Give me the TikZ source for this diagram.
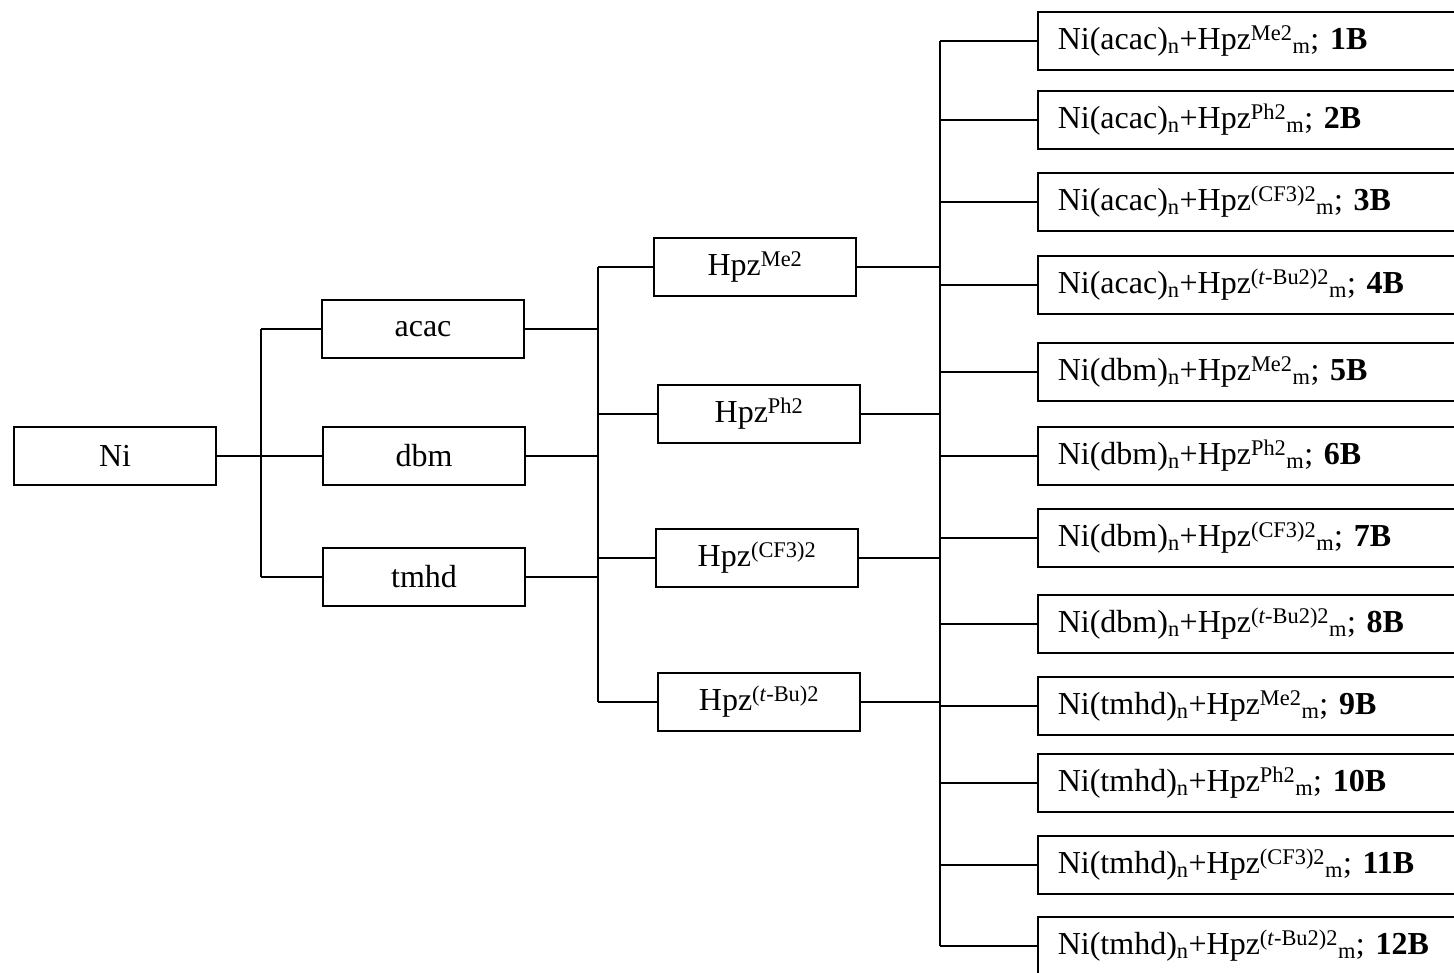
\documentclass[tikz,border=0pt]{standalone}
\usepackage{fontspec}
\setmainfont{Liberation Serif}
\frenchspacing
\begin{document}
\begin{tikzpicture}[x=1pt,y=-1pt,
  wire/.style={line width=1.6pt},
  box/.style={draw, line width=1.6pt, minimum width=202pt, minimum height=58pt,
    inner sep=0pt, font=\fontsize{32}{38}\selectfont},
  rbox/.style={draw, line width=1.6pt, anchor=west, minimum height=58pt,
    text width=420pt, inner xsep=20pt, inner ysep=0pt, align=left,
    font=\fontsize{32}{38}\selectfont}]
\useasboundingbox (0,0) rectangle (1454,973);

% metal and ligands
\node[box] (ni)   at (115,456) {Ni};
\node[box] (acac) at (423,329) {acac};
\node[box] (dbm)  at (424,456) {dbm};
\node[box] (tmhd) at (424,577) {tmhd};

% pyrazoles
\node[box] (hme) at (755,267) {Hpz\textsuperscript{Me2}};
\node[box] (hph) at (759,414) {Hpz\textsuperscript{Ph2}};
\node[box] (hcf) at (757,558) {Hpz\textsuperscript{(CF3)2}};
\node[box] (hbu) at (759,702) {Hpz\textsuperscript{(\textit{t}-Bu)2}};

% combinations
\node[rbox] (r1)  at (1037,41)  {Ni(acac)\textsubscript{n}+Hpz\textsuperscript{Me2}\textsubscript{m}; \textbf{1B}};
\node[rbox] (r2)  at (1037,120) {Ni(acac)\textsubscript{n}+Hpz\textsuperscript{Ph2}\textsubscript{m}; \textbf{2B}};
\node[rbox] (r3)  at (1037,202) {Ni(acac)\textsubscript{n}+Hpz\textsuperscript{(CF3)2}\textsubscript{m}; \textbf{3B}};
\node[rbox] (r4)  at (1037,285) {Ni(acac)\textsubscript{n}+Hpz\textsuperscript{(\textit{t}-Bu2)2}\textsubscript{m}; \textbf{4B}};
\node[rbox] (r5)  at (1037,372) {Ni(dbm)\textsubscript{n}+Hpz\textsuperscript{Me2}\textsubscript{m}; \textbf{5B}};
\node[rbox] (r6)  at (1037,456) {Ni(dbm)\textsubscript{n}+Hpz\textsuperscript{Ph2}\textsubscript{m}; \textbf{6B}};
\node[rbox] (r7)  at (1037,538) {Ni(dbm)\textsubscript{n}+Hpz\textsuperscript{(CF3)2}\textsubscript{m}; \textbf{7B}};
\node[rbox] (r8)  at (1037,624) {Ni(dbm)\textsubscript{n}+Hpz\textsuperscript{(\textit{t}-Bu2)2}\textsubscript{m}; \textbf{8B}};
\node[rbox] (r9)  at (1037,706) {Ni(tmhd)\textsubscript{n}+Hpz\textsuperscript{Me2}\textsubscript{m}; \textbf{9B}};
\node[rbox] (r10) at (1037,783) {Ni(tmhd)\textsubscript{n}+Hpz\textsuperscript{Ph2}\textsubscript{m}; \textbf{10B}};
\node[rbox] (r11) at (1037,865) {Ni(tmhd)\textsubscript{n}+Hpz\textsuperscript{(CF3)2}\textsubscript{m}; \textbf{11B}};
\node[rbox] (r12) at (1037,946) {Ni(tmhd)\textsubscript{n}+Hpz\textsuperscript{(\textit{t}-Bu2)2}\textsubscript{m}; \textbf{12B}};

% junction columns
\coordinate (ja) at (261,0);
\coordinate (jb) at (598,0);
\coordinate (jc) at (940,0);

% Ni to ligands
\draw[wire] (ni.east) -- (dbm.west);
\draw[wire] (ja |- acac) -- (ja |- tmhd);
\draw[wire] (ja |- acac) -- (acac.west);
\draw[wire] (ja |- tmhd) -- (tmhd.west);

% ligands to pyrazoles
\draw[wire] (acac.east) -- (jb |- acac);
\draw[wire] (dbm.east) -- (jb |- dbm);
\draw[wire] (tmhd.east) -- (jb |- tmhd);
\draw[wire] (jb |- hme) -- (jb |- hbu);
\foreach \n in {hme,hph,hcf,hbu} \draw[wire] (jb |- \n) -- (\n.west);

% pyrazoles to combinations
\foreach \n in {hme,hph,hcf,hbu} \draw[wire] (\n.east) -- (jc |- \n);
\draw[wire] (jc |- r1) -- (jc |- r12);
\foreach \n in {r1,r2,r3,r4,r5,r6,r7,r8,r9,r10,r11,r12} \draw[wire] (jc |- \n) -- (\n.west);
\end{tikzpicture}
\end{document}
